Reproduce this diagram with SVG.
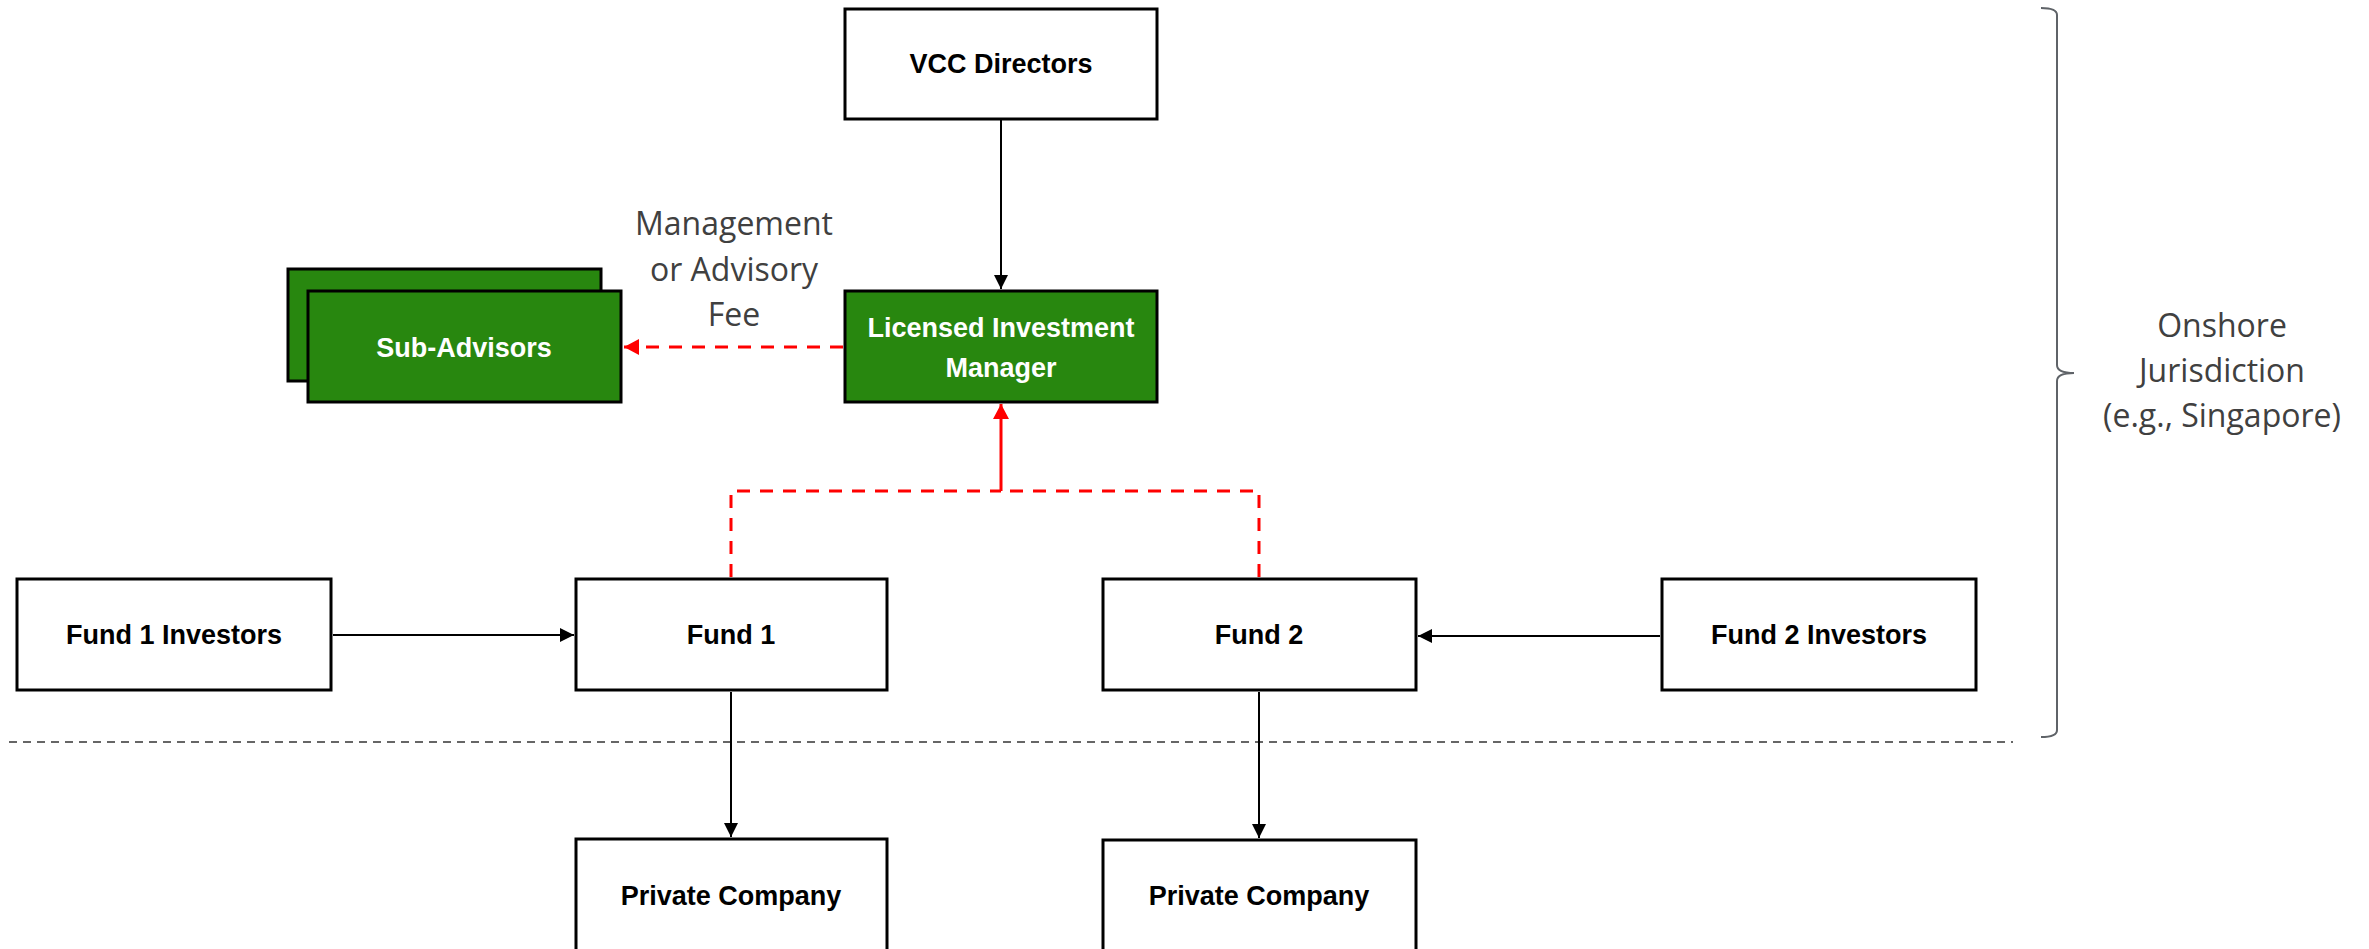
<svg xmlns="http://www.w3.org/2000/svg" width="2369" height="949" viewBox="0 0 2369 949">
<style>
.box{fill:#ffffff;stroke:#000000;stroke-width:3}
.gbox{fill:#28870f;stroke:#000000;stroke-width:3}
.lbl{font-family:"Liberation Sans",Arial,sans-serif;font-weight:bold;font-size:27px;text-anchor:middle;fill:#000000}
.wlbl{fill:#ffffff}
.note{font-family:"Open Sans","Liberation Sans",sans-serif;font-size:32px;text-anchor:middle;fill:#404040}
.blk{fill:none;stroke:#000000;stroke-width:2}
.red{fill:none;stroke:#ff0000;stroke-width:3;stroke-dasharray:13 10}
.redsolid{fill:none;stroke:#ff0000;stroke-width:3}
</style>
<defs>
<marker id="ab" markerUnits="userSpaceOnUse" markerWidth="14" markerHeight="14" refX="14" refY="7" orient="auto">
<path d="M0,0 L14,7 L0,14 z" fill="#000000"/>
</marker>
<marker id="ar" markerUnits="userSpaceOnUse" markerWidth="16" markerHeight="16" refX="15" refY="8" orient="auto">
<path d="M0,0 L15,8 L0,16 z" fill="#ff0000"/>
</marker>
</defs>

<g id="boundary">
<path d="M9,742 H2013" fill="none" stroke="#666666" stroke-width="2" stroke-dasharray="8 6"/>
<path d="M2041,8 Q2057,8 2057,15 V365 Q2057,373 2074,373 Q2057,373 2057,381 V730 Q2057,737 2041,737" fill="none" stroke="#5f6368" stroke-width="2"/>
<text class="note" x="2222" y="337">Onshore</text>
<text class="note" x="2222" y="382">Jurisdiction</text>
<text class="note" x="2222" y="427">(e.g., Singapore)</text>
</g>

<g id="connectors">
<path class="blk" d="M1001,120 V289" marker-end="url(#ab)"/>
<path class="red" d="M843,347 H624" marker-end="url(#ar)"/>
<path class="red" d="M731,577 V491 H1001"/>
<path class="red" d="M1259,577 V491 H1001"/>
<path class="redsolid" d="M1001,491 V404" marker-end="url(#ar)"/>
<path class="blk" d="M333,635 H574" marker-end="url(#ab)"/>
<path class="blk" d="M1660,636 H1418" marker-end="url(#ab)"/>
<path class="blk" d="M731,692 V837" marker-end="url(#ab)"/>
<path class="blk" d="M1259,692 V838" marker-end="url(#ab)"/>
<text class="note" x="734" y="235">Management</text>
<text class="note" x="734" y="281">or Advisory</text>
<text class="note" x="734" y="326">Fee</text>
</g>

<g id="vcc-directors">
<rect class="box" x="845" y="9" width="312" height="110"/>
<text class="lbl" x="1001" y="73">VCC Directors</text>
</g>

<g id="licensed-investment-manager">
<rect class="gbox" x="845" y="291" width="312" height="111"/>
<text class="lbl wlbl" x="1001" y="337">Licensed Investment</text>
<text class="lbl wlbl" x="1001" y="377">Manager</text>
</g>

<g id="sub-advisors">
<rect class="gbox" x="288" y="269" width="313" height="112"/>
<rect class="gbox" x="308" y="291" width="313" height="111"/>
<text class="lbl wlbl" x="464" y="357">Sub-Advisors</text>
</g>

<g id="fund1-investors">
<rect class="box" x="17" y="579" width="314" height="111"/>
<text class="lbl" x="174" y="644">Fund 1 Investors</text>
</g>

<g id="fund1">
<rect class="box" x="576" y="579" width="311" height="111"/>
<text class="lbl" x="731" y="644">Fund 1</text>
</g>

<g id="fund2">
<rect class="box" x="1103" y="579" width="313" height="111"/>
<text class="lbl" x="1259" y="644">Fund 2</text>
</g>

<g id="fund2-investors">
<rect class="box" x="1662" y="579" width="314" height="111"/>
<text class="lbl" x="1819" y="644">Fund 2 Investors</text>
</g>

<g id="private-company-1">
<rect class="box" x="576" y="839" width="311" height="114"/>
<text class="lbl" x="731" y="905">Private Company</text>
</g>

<g id="private-company-2">
<rect class="box" x="1103" y="840" width="313" height="113"/>
<text class="lbl" x="1259" y="905">Private Company</text>
</g>
</svg>
